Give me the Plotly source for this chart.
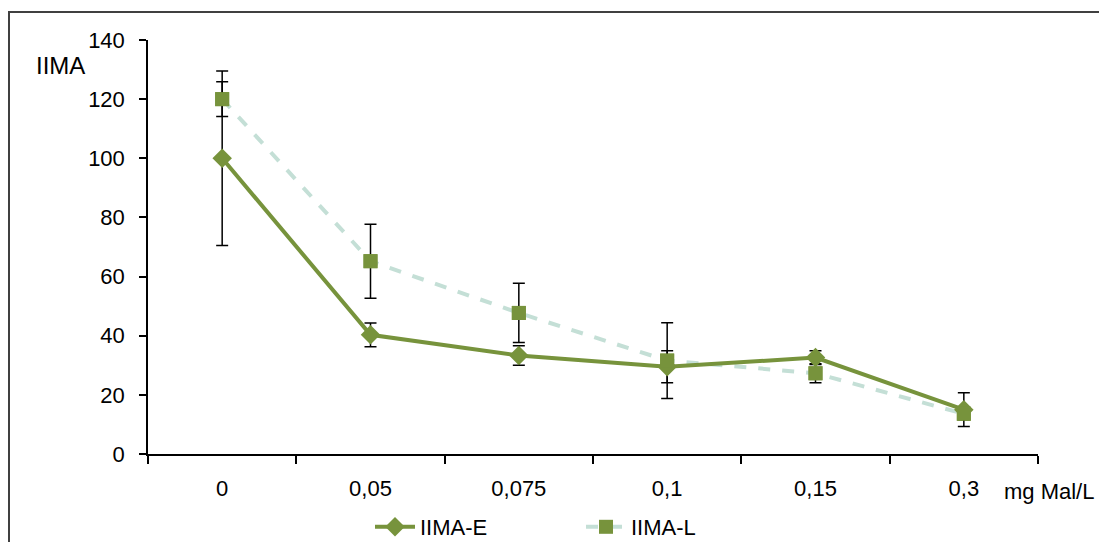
import plotly.graph_objects as go

categories = ["0", "0,05", "0,075", "0,1", "0,15", "0,3"]
iima_e = [100, 40.3, 33.3, 29.5, 32.6, 15.0]
iima_e_err = [29.5, 4.0, 3.3, 5.4, 2.3, 5.7]
iima_l = [120, 65.2, 47.7, 31.6, 27.3, 13.6]
iima_l_err = [5.9, 12.5, 10.0, 12.8, 3.2, 2.0]
y_ticks = [0, 20, 40, 60, 80, 100, 120, 140]

GREEN = "#77933C"
PALE = "#C4DFD6"
FONT = "Liberation Sans, Arial, sans-serif"

# page has an 8px body margin; size the figure to fit the 1107x542 window
OFF = 8
W, H = 1107 - OFF, 542 - OFF
PLOT_L, PLOT_R, PLOT_T, PLOT_B = 148, 1038, 40, 454  # page coords
L_M = PLOT_L - OFF
T_M = PLOT_T - OFF
R_M = W - (PLOT_R - OFF)
B_M = H - (PLOT_B - OFF)
PW = PLOT_R - PLOT_L
PH = PLOT_B - PLOT_T


def px_x(p):
    return (p - PLOT_L) / PW


def px_y(p):
    return (PLOT_B - p) / PH


fig = go.Figure()

fig.add_trace(go.Scatter(
    x=categories, y=iima_l, name="IIMA-L", mode="lines+markers",
    line=dict(color=PALE, width=4, dash="dash"),
    marker=dict(symbol="square", size=14, color=GREEN),
    error_y=dict(type="data", array=iima_l_err, visible=True,
                 color="black", thickness=1.5, width=6),
    legendrank=2,
))
fig.add_trace(go.Scatter(
    x=categories, y=iima_e, name="IIMA-E", mode="lines+markers",
    line=dict(color=GREEN, width=4),
    marker=dict(symbol="diamond", size=15, color=GREEN),
    error_y=dict(type="data", array=iima_e_err, visible=True,
                 color="black", thickness=1.5, width=6),
    legendrank=1,
))
fig.add_trace(go.Scatter(
    x=categories, y=iima_l, mode="markers", showlegend=False,
    marker=dict(symbol="square", size=14, color=GREEN),
    hoverinfo="skip",
))

fig.update_layout(
    width=W, height=H,
    margin=dict(l=L_M, r=R_M, t=T_M, b=B_M, autoexpand=False),
    paper_bgcolor="white", plot_bgcolor="white",
    font=dict(family=FONT, size=22, color="black"),
    showlegend=True,
    legend=dict(orientation="h", x=px_x(370), y=px_y(527), xanchor="left",
                yanchor="middle", font=dict(size=22), entrywidth=156,
                itemwidth=40, bgcolor="rgba(0,0,0,0)"),
    xaxis=dict(type="category", range=[-0.5, 5.5], showgrid=False,
               showline=True, linecolor="black", linewidth=1.5,
               ticks="outside", ticklen=8, tickcolor="black", tickwidth=1.5,
               tickson="boundaries", ticklabelstandoff=14,
               tickfont=dict(size=22), zeroline=False),
    yaxis=dict(range=[0, 140], tickvals=y_ticks, showgrid=False,
               showline=True, linecolor="black", linewidth=1.5,
               ticks="outside", ticklen=7, tickcolor="black", tickwidth=1.5,
               ticklabelstandoff=10, tickfont=dict(size=22), zeroline=False),
    annotations=[
        dict(text="IIMA", xref="paper", yref="paper", x=px_x(60), y=px_y(66),
             xanchor="center", yanchor="middle", showarrow=False,
             font=dict(size=24)),
        dict(text="mg Mal/L", xref="paper", yref="paper", x=px_x(1002),
             y=px_y(491), xanchor="left", yanchor="middle", showarrow=False,
             font=dict(size=22)),
    ],
    shapes=[
        dict(type="rect", xref="paper", yref="paper",
             x0=px_x(9), x1=px_x(1106), y0=px_y(600), y1=px_y(12),
             line=dict(color="#404040", width=2), fillcolor="rgba(0,0,0,0)",
             layer="below"),
    ],
)

fig.write_html("out.html")
